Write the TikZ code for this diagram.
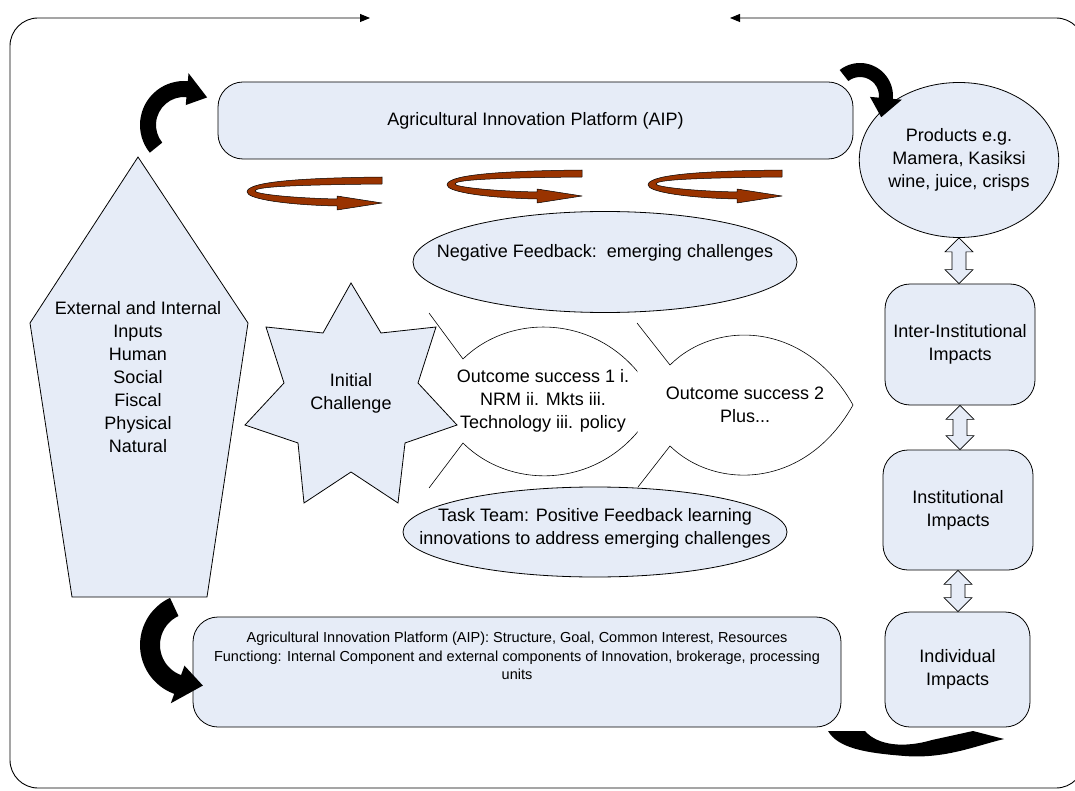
\documentclass[tikz,border=0pt]{standalone}
\usepackage{fontspec}
\setmainfont{Liberation Sans}
\usetikzlibrary{shapes.geometric,calc,arrows.meta}
\definecolor{lightblue}{RGB}{230,236,247}
\definecolor{brownish}{RGB}{153,51,0}
\tikzset{
  shapebox/.style={draw=black, fill=lightblue, line width=0.8pt},
  rbox/.style={shapebox, rectangle, rounded corners=25pt, inner sep=0pt, align=center, font=\fontsize{18}{23}\selectfont},
  ell/.style={shapebox, ellipse, inner sep=0pt, align=center, font=\fontsize{18}{23}\selectfont},
  txt/.style={font=\fontsize{18}{23}\selectfont, align=center, inner sep=0pt},
  smalltxt/.style={font=\fontsize{14.5}{18.5}\selectfont, align=center, inner sep=0pt},
  blk/.style={fill=black},
  ribbon/.style={fill=brownish, draw=black, line width=0.5pt, line join=round},
  dbl/.style={draw=black, fill=lightblue, line width=0.6pt},
  fish/.style={draw=black, fill=white, line width=0.6pt},
  borderline/.style={draw=black, line width=0.9pt, rounded corners=28pt},
  tipstyle/.style={-{Triangle[length=10pt,width=8pt]}}
}
\newcommand\dblarr[2]{\draw[dbl] let \p1=(#1), \p2=(#2) in
  (\x1,\y1) -- (\x1+14pt,\y1-14pt) -- (\x1+7pt,\y1-14pt) -- (\x1+7pt,\y2+14pt) -- (\x1+14pt,\y2+14pt) -- (\x1,\y2)
  -- (\x1-14pt,\y2+14pt) -- (\x1-7pt,\y2+14pt) -- (\x1-7pt,\y1-14pt) -- (\x1-14pt,\y1-14pt) -- cycle;}
\newcommand\ribbonarrow[3]{% #1 left x, #2 right x, #3 top y
  \draw[ribbon] (#2,#3) .. controls (#1+40,#3+1) and (#1,#3+6) .. (#1,#3+15)
    .. controls (#1,#3+22) and (#1+40,#3+28) .. (#2-45,#3+29)
    -- (#2-45,#3+33) -- (#2,#3+26) -- (#2-45,#3+19) -- (#2-45,#3+22)
    .. controls (#1+45,#3+21) and (#1+8,#3+17) .. (#1+8,#3+14)
    .. controls (#1+8,#3+10) and (#1+40,#3+8) .. (#2,#3+7) -- cycle;}
\begin{document}
\begin{tikzpicture}[x=1pt,y=-1pt]
\useasboundingbox (0,0) rectangle (1075,791);

% outer frame with two arrows
\coordinate (fr) at (1084,420);
\coordinate (ftl) at (370,18);
\coordinate (ftr) at (730,18);
\draw[borderline, tipstyle] (fr) |- (10,788) |- (ftl);
\draw[borderline, tipstyle] (fr) |- (ftr);

% pentagon
\draw[shapebox] (138,157) -- (248,323) -- (207,597) -- (72,597) -- (30,323) -- cycle;
\node[txt] (inputs) at (138,377) {External and Internal\\Inputs\\Human\\Social\\Fiscal\\Physical\\Natural};

% top AIP box
\node[rbox, minimum width=635, minimum height=77] (aip) at (535.5,120.5) {Agricultural Innovation Platform (AIP)};

% brown ribbon arrows
\ribbonarrow{247}{382}{177}
\ribbonarrow{447}{582}{170}
\ribbonarrow{648}{782}{170}

% negative feedback ellipse
\node[ell, minimum width=384, minimum height=101] (neg) at (605,262) {};
\node[txt] (negtext) at (605,253) {Negative Feedback:\ \ emerging challenges};

% fish shapes
\draw[fish] (429,313) -- (463,359) .. controls (515,308) and (615,315) .. (657,402)
  .. controls (615,488) and (515,495) .. (463,443) -- (429,488);
\draw[fish] (637,323) -- (670,365) .. controls (715,320) and (805,320) .. (853,405)
  .. controls (805,490) and (715,490) .. (670,446) -- (638,487);
\node[txt] (out1) at (543,401) {Outcome success 1 i.\\NRM ii. Mkts iii.\\Technology iii. policy};
\node[txt] (out2) at (745,405) {Outcome success 2\\Plus...};

% star
\draw[shapebox] (351,283) -- (381,333) -- (436,327) -- (418,383) -- (457,425) -- (405,443)
  -- (398,503) -- (351,472) -- (304,503) -- (298,443) -- (245,425) -- (284,383)
  -- (266,327) -- (323,333) -- cycle;
\node[txt] (init) at (351,393) {Initial\\Challenge};

% task team ellipse
\node[ell, minimum width=384, minimum height=90] (task) at (595,532) {};
\node[txt] (tasktext) at (595,528) {Task Team: Positive Feedback learning\\innovations to address emerging challenges};

% bottom AIP box
\node[rbox, minimum width=648, minimum height=110] (aip2) at (517,672) {};
\node[smalltxt, anchor=north] (aip2text) at (517,632) {Agricultural Innovation Platform (AIP): Structure, Goal, Common Interest, Resources\\Functiong: Internal Component and external components of Innovation, brokerage, processing\\units};

% right column
\node[ell, minimum width=182, minimum height=155] (prod) at (959,160) {Products e.g.\\Mamera, Kasiksi\\wine, juice, crisps};
\node[rbox, minimum width=150, minimum height=121] (inter) at (960,344.5) {Inter-Institutional\\Impacts};
\node[rbox, minimum width=150, minimum height=120] (inst) at (958,510) {Institutional\\Impacts};
\node[rbox, minimum width=145, minimum height=115] (indiv) at (957.5,669.5) {Individual\\Impacts};

\dblarr{prod.south}{inter.north}
\dblarr{inter.south}{inst.north}
\dblarr{inst.south}{indiv.north}

% black curved arrows
\coordinate (c1) at (184,125);
\fill[blk] ($(c1)+(-219:44)$) arc[start angle=-219, end angle=-85, radius=44]
  -- ($(c1)+(-85:52)$) -- ($(c1)+(-50:36)$) -- ($(c1)+(-85:20)$) -- ($(c1)+(-85:28)$)
  arc[start angle=-85, end angle=-219, radius=28] -- cycle;
\coordinate (c2) at (860,96);
\fill[blk] ($(c2)+(-128:33)$) arc[start angle=-128, end angle=5, radius=33]
  -- ($(c2)+(5:42)$) -- ($(c2)+(45:30)$) -- ($(c2)+(5:10)$) -- ($(c2)+(5:19)$)
  arc[start angle=5, end angle=-128, radius=19] -- cycle;
\coordinate (c3) at (192,645);
\fill[blk] ($(c3)+(-115:52)$) arc[start angle=-115, end angle=-250, radius=52]
  -- ($(c3)+(-250:62)$) -- ($(c3)+(-285:42)$) -- ($(c3)+(-250:22)$) -- ($(c3)+(-250:32)$)
  arc[start angle=-250, end angle=-115, radius=32] -- cycle;
\fill[blk] (828,731) -- (865,731) .. controls (878,746) and (905,748) .. (932,740)
  -- (973,731) -- (1004,739) .. controls (975,746) and (945,759) .. (905,756)
  .. controls (865,753) and (838,748) .. (828,731) -- cycle;
\end{tikzpicture}
\end{document}
